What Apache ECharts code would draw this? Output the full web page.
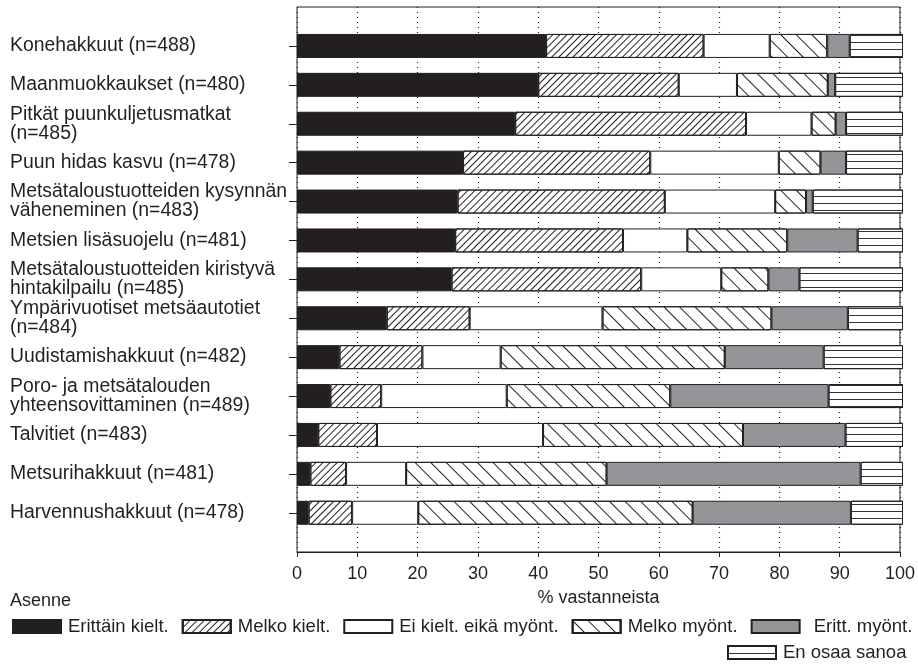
<!DOCTYPE html>
<html>
<head>
<meta charset="utf-8">
<script src="https://cdn.jsdelivr.net/npm/echarts@6/dist/echarts.min.js"></script>
<style>
html,body{margin:0;padding:0;background:#fff;}
#chart{width:918px;height:672px;}
</style>
</head>
<body>
<div id="chart"></div>
<script>
var categories = [
  'Konehakkuut (n=488)',
  'Maanmuokkaukset (n=480)',
  'Pitkät puunkuljetusmatkat\n(n=485)',
  'Puun hidas kasvu (n=478)',
  'Metsätaloustuotteiden kysynnän\nväheneminen (n=483)',
  'Metsien lisäsuojelu (n=481)',
  'Metsätaloustuotteiden kiristyvä\nhintakilpailu (n=485)',
  'Ympärivuotiset metsäautotiet\n(n=484)',
  'Uudistamishakkuut (n=482)',
  'Poro- ja metsätalouden\nyhteensovittaminen (n=489)',
  'Talvitiet (n=483)',
  'Metsurihakkuut (n=481)',
  'Harvennushakkuut (n=478)'
];
var seriesNames = ['Erittäin kielt.', 'Melko kielt.', 'Ei kielt. eikä myönt.', 'Melko myönt.', 'Eritt. myönt.', 'En osaa sanoa'];
var erittainKielt = [41.1, 39.8, 36.0, 27.4, 26.5, 26.1, 25.5, 14.8, 7.0, 5.5, 3.5, 2.2, 1.9];
var melkoKielt    = [26.0, 23.2, 38.1, 30.9, 34.2, 27.7, 31.3, 13.7, 13.7, 8.4, 9.7, 5.9, 7.2];
var eiKieltEika   = [10.9, 9.6, 10.8, 21.2, 18.2, 10.6, 13.2, 21.9, 12.9, 20.7, 27.4, 9.9, 10.9];
var melkoMyont    = [9.5, 15.0, 4.0, 6.9, 5.1, 16.5, 7.8, 27.9, 37.0, 27.0, 33.0, 33.1, 45.3];
var erittMyont    = [3.7, 1.2, 1.7, 4.2, 1.1, 11.6, 5.1, 12.6, 16.3, 26.1, 16.9, 41.9, 26.1];
var enOsaaSanoa   = [8.8, 11.2, 9.4, 9.4, 14.9, 7.5, 17.1, 9.1, 13.1, 12.3, 9.5, 7.0, 8.6];
var xTicks = [0, 10, 20, 30, 40, 50, 60, 70, 80, 90, 100];

var INK = '#231f20';
var FONT = '"Liberation Sans", Arial, Helvetica, sans-serif';

var styles = [
  {color: INK},
  {color: '#fff', decal: {symbol: 'rect', symbolSize: 1, color: INK, dashArrayX: [1, 0], dashArrayY: [1, 3.2], rotation: -Math.PI / 4}},
  {color: '#fff'},
  {color: '#fff', decal: {symbol: 'rect', symbolSize: 1, color: INK, dashArrayX: [1, 0], dashArrayY: [1, 9.6], rotation: Math.PI / 4}},
  {color: '#939598'},
  {color: '#fff', decal: {symbol: 'rect', symbolSize: 1, color: '#333', dashArrayX: [1, 0], dashArrayY: [1, 6], rotation: 0}}
];
var values = [erittainKielt, melkoKielt, eiKieltEika, melkoMyont, erittMyont, enOsaaSanoa];

var series = values.map(function (v, i) {
  var st = styles[i];
  var itemStyle = {color: st.color, borderColor: INK, borderWidth: 1};
  if (st.decal) itemStyle.decal = st.decal;
  return {
    name: seriesNames[i],
    type: 'bar',
    stack: 'total',
    xAxisIndex: 1,
    yAxisIndex: 1,
    barWidth: 24,
    itemStyle: itemStyle,
    emphasis: {disabled: true},
    animation: false,
    data: v
  };
});

var legendText = {fontFamily: FONT, fontSize: 18.5, color: INK, padding: [0, 0, 0, 2]};

var chart = echarts.init(document.getElementById('chart'), null, {renderer: 'canvas'});
chart.setOption({
  animation: false,
  backgroundColor: '#fff',
  textStyle: {fontFamily: FONT, color: INK},
  title: {
    text: 'Asenne', left: 5, top: 587,
    textStyle: {fontFamily: FONT, fontSize: 18, fontWeight: 'normal', color: INK}
  },
  legend: [
    {
      data: seriesNames.slice(0, 5).map(function (n, i) {
        return i === 4 ? {name: n, textStyle: {padding: [0, 0, 0, 9]}} : {name: n};
      }),
      left: 7, top: 612, itemWidth: 48, itemHeight: 13, itemGap: 13,
      selectedMode: false, icon: 'rect',
      textStyle: legendText
    },
    {
      data: [seriesNames[5]],
      left: 722, top: 638, itemWidth: 48, itemHeight: 13,
      selectedMode: false, icon: 'rect',
      textStyle: legendText
    }
  ],
  grid: [
    {left: 297, right: 15, top: 7, bottom: 120, show: true, borderColor: INK, borderWidth: 1, backgroundColor: '#fff'},
    {left: 297, right: 15, top: 26.5, bottom: 139.8}
  ],
  xAxis: [
    {
      gridIndex: 0, type: 'value', min: xTicks[0], max: xTicks[xTicks.length - 1], interval: 10,
      axisLine: {show: true, lineStyle: {color: INK, width: 1}},
      axisTick: {show: true, length: 5, lineStyle: {color: INK}},
      axisLabel: {fontFamily: FONT, fontSize: 18, color: INK, margin: 13, showMinLabel: true, showMaxLabel: true},
      splitLine: {show: true, lineStyle: {color: INK, type: [1, 4], width: 1.2}},
      name: '% vastanneista', nameLocation: 'middle', nameGap: 37,
      nameTextStyle: {fontFamily: FONT, fontSize: 18, color: INK}
    },
    {gridIndex: 1, type: 'value', min: 0, max: 100, show: false}
  ],
  yAxis: [
    {gridIndex: 0, type: 'value', min: 0, max: 1, show: false},
    {
      gridIndex: 1, type: 'category', inverse: true, data: categories,
      axisLine: {show: false},
      axisTick: {show: true, alignWithLabel: true, length: 8, lineStyle: {color: INK}},
      axisLabel: {align: 'left', margin: 287, fontFamily: FONT, fontSize: 19.4, lineHeight: 19, color: INK},
      splitLine: {show: false}
    }
  ],
  series: series
});
</script>
</body>
</html>
